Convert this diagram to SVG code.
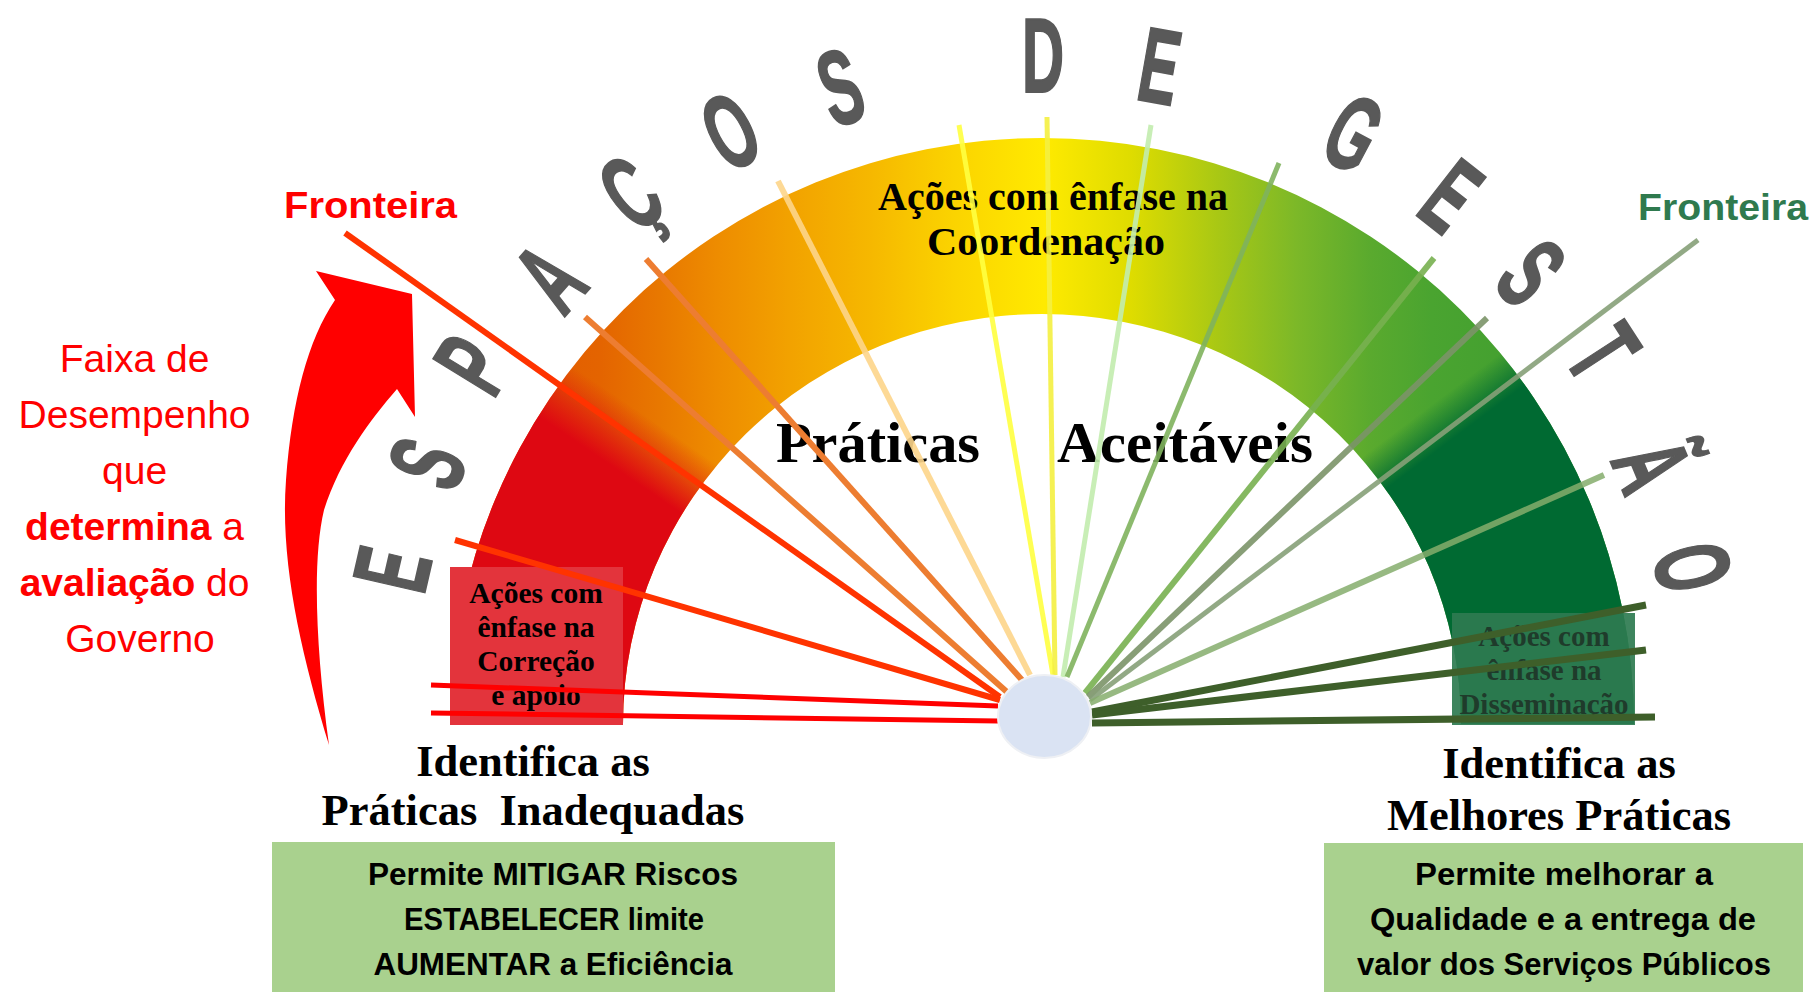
<svg xmlns="http://www.w3.org/2000/svg" width="1816" height="992" viewBox="0 0 1816 992">
<defs>
<style>
.serif{font-family:"Liberation Serif","Times New Roman",serif;font-weight:700;fill:#000}
.sans{font-family:"Liberation Sans",Arial,sans-serif}
.arc{font-family:"Liberation Sans",Arial,sans-serif;font-weight:700;font-size:106px;fill:#595959;stroke:#595959;stroke-width:2;text-anchor:middle}
.mid{text-anchor:middle}
.boxtxt{font-family:"Liberation Sans",Arial,sans-serif;font-weight:700;font-size:31.5px;fill:#000;text-anchor:middle}
.red{fill:#ff0000}
</style>
<linearGradient id="bandGrad" gradientUnits="userSpaceOnUse" x1="450" y1="0" x2="1634" y2="0">
<stop offset="0" stop-color="#e05000"/>
<stop offset="0.127" stop-color="#e46400"/>
<stop offset="0.177" stop-color="#e87800"/>
<stop offset="0.226" stop-color="#ee8c00"/>
<stop offset="0.287" stop-color="#f2a200"/>
<stop offset="0.356" stop-color="#f6b800"/>
<stop offset="0.427" stop-color="#fbd400"/>
<stop offset="0.502" stop-color="#ffea00"/>
<stop offset="0.576" stop-color="#dedc00"/>
<stop offset="0.648" stop-color="#a9c814"/>
<stop offset="0.715" stop-color="#7cb828"/>
<stop offset="0.777" stop-color="#5aaa2e"/>
<stop offset="0.829" stop-color="#4aa430"/>
<stop offset="1" stop-color="#3a9a30"/>
</linearGradient>
<linearGradient id="redFade" gradientUnits="userSpaceOnUse" x1="1025" y1="747" x2="1059" y2="697">
<stop offset="0" stop-color="#de0812"/>
<stop offset="1" stop-color="#de0812" stop-opacity="0"/>
</linearGradient>
<linearGradient id="greenFade" gradientUnits="userSpaceOnUse" x1="1030" y1="706" x2="1054" y2="738">
<stop offset="0" stop-color="#006a32" stop-opacity="0"/>
<stop offset="1" stop-color="#006a32"/>
</linearGradient>
<path id="bandShape" d="M450,724 A592,586 0 0 1 1634,724 L1461,724 A419,410 0 0 0 623,724 Z"/>
</defs>
<rect width="1816" height="992" fill="#ffffff"/>

<g id="gauge">
<use href="#bandShape" fill="url(#bandGrad)"/>
<use href="#bandShape" fill="url(#redFade)"/>
<use href="#bandShape" fill="url(#greenFade)"/>
</g>

<g id="box-correcao">
<rect x="450" y="567" width="173" height="158" fill="#e3343c"/>
<text class="serif mid" font-size="29.5"><tspan x="536" y="603">Ações com</tspan><tspan x="536" y="637">ênfase na</tspan><tspan x="536" y="671">Correção</tspan><tspan x="536" y="705">e apoio</tspan></text>
</g>

<g id="box-disseminacao">
<rect x="1452" y="613" width="183" height="112" fill="#2e7b50" opacity="0.92"/>
<text class="serif mid" font-size="29" style="fill:#1f3b2b"><tspan x="1544" y="646">Ações com</tspan><tspan x="1544" y="680">ênfase na</tspan><tspan x="1544" y="714">Disseminação</tspan></text>
</g>

<g id="title-arc">
<text class="arc" transform="translate(391,569) rotate(-77) scale(0.55,1)" y="38">E</text>
<text class="arc" transform="translate(426,463) rotate(-68) scale(0.55,1)" y="38">S</text>
<text class="arc" transform="translate(471,364) rotate(-58.5) scale(0.55,1)" y="38">P</text>
<text class="arc" transform="translate(549,277) rotate(-48.5) scale(0.55,1)" y="38">A</text>
<text class="arc" transform="translate(630,192) rotate(-38) scale(0.55,1)" y="38">Ç</text>
<text class="arc" transform="translate(730,130) rotate(-28) scale(0.55,1)" y="38">O</text>
<text class="arc" transform="translate(840,86) rotate(-18) scale(0.55,1)" y="38">S</text>
<text class="arc" transform="translate(1043,54) rotate(0) scale(0.55,1)" y="38">D</text>
<text class="arc" transform="translate(1160,65) rotate(10) scale(0.55,1)" y="38">E</text>
<text class="arc" transform="translate(1354,132) rotate(28) scale(0.55,1)" y="38">G</text>
<text class="arc" transform="translate(1452,195) rotate(38) scale(0.55,1)" y="38">E</text>
<text class="arc" transform="translate(1532,272) rotate(47.5) scale(0.55,1)" y="38">S</text>
<text class="arc" transform="translate(1604,352) rotate(57) scale(0.55,1)" y="38">T</text>
<text class="arc" transform="translate(1653,465) rotate(67.5) scale(0.55,1)" y="38">Ã</text>
<text class="arc" transform="translate(1694,567) rotate(77) scale(0.55,1)" y="38">O</text>
</g>

<g id="coordenacao">
<text class="serif mid" font-size="40"><tspan x="1053" y="210" textLength="350" lengthAdjust="spacingAndGlyphs">Ações com ênfase na</tspan><tspan x="1046" y="255" textLength="238" lengthAdjust="spacingAndGlyphs">Coordenação</tspan></text>
</g>

<g id="praticas-aceitaveis">
<text class="serif" font-size="57" x="776" y="462" textLength="204" lengthAdjust="spacingAndGlyphs">Práticas</text>
<text class="serif" font-size="57" x="1057" y="462" textLength="256" lengthAdjust="spacingAndGlyphs">Aceitáveis</text>
</g>

<g id="fronteira-left">
<text class="sans" font-weight="700" font-size="37" x="284" y="218" textLength="173" lengthAdjust="spacingAndGlyphs" fill="#ff0000">Fronteira</text>
</g>
<g id="fronteira-right">
<text class="sans" font-weight="700" font-size="37" x="1638" y="220" textLength="170" lengthAdjust="spacingAndGlyphs" fill="#2f7a4e">Fronteira</text>
</g>

<g id="faixa-desempenho">
<text class="sans red mid" font-size="39">
<tspan x="140" y="372">Faixa de</tspan>
<tspan x="140" y="428">Desempenho</tspan>
<tspan x="140" y="484">que</tspan>
<tspan x="140" y="540"><tspan font-weight="700">determina</tspan> a</tspan>
<tspan x="140" y="596"><tspan font-weight="700">avaliação</tspan> do</tspan>
<tspan x="140" y="652">Governo</tspan>
</text>
</g>

<g id="red-arrow">
<path d="M329,745 C300,650 280,560 286,480 C292,400 308,340 335,300 L316,271 L412,294 L415,417 L397,389 C370,420 340,460 324,510 C312,560 316,650 329,745 Z" fill="#ff0000"/>
</g>

<g id="connectors" fill="none" stroke-linecap="butt">
<line x1="345" y1="233" x2="1000" y2="697" stroke="#ff3300" stroke-width="6"/>
<line x1="455" y1="540" x2="1000" y2="700" stroke="#ff3300" stroke-width="6"/>
<line x1="431" y1="685" x2="998" y2="706" stroke="#ff0000" stroke-width="5"/>
<line x1="431" y1="713" x2="998" y2="721" stroke="#ff0000" stroke-width="5"/>
<line x1="585" y1="317" x2="1007" y2="692" stroke="#ed7d31" stroke-width="6"/>
<line x1="646" y1="259" x2="1022" y2="680" stroke="#ed7d31" stroke-width="6"/>
<line x1="778" y1="181" x2="1030" y2="675" stroke="#fdd58a" stroke-width="6" opacity="0.9"/>
<line x1="959" y1="125" x2="1053" y2="675" stroke="#ffff40" stroke-width="5" opacity="0.9"/>
<line x1="1047" y1="117" x2="1055" y2="675" stroke="#f4f040" stroke-width="5" opacity="0.9"/>
<line x1="1151" y1="125" x2="1063" y2="677" stroke="#c2ecae" stroke-width="5" opacity="0.9"/>
<line x1="1279" y1="163" x2="1067" y2="677" stroke="#80b35d" stroke-width="5" opacity="0.9"/>
<line x1="1434" y1="258" x2="1085" y2="693" stroke="#78b050" stroke-width="6" opacity="0.9"/>
<line x1="1487" y1="318" x2="1088" y2="697" stroke="#7b9468" stroke-width="6" opacity="0.9"/>
<line x1="1698" y1="240" x2="1090" y2="700" stroke="#86a078" stroke-width="5" opacity="0.9"/>
<line x1="1604" y1="475" x2="1090" y2="703" stroke="#85ad6c" stroke-width="6" opacity="0.85"/>
<line x1="1646" y1="605" x2="1092" y2="712" stroke="#3e5f2a" stroke-width="7"/>
<line x1="1646" y1="650" x2="1092" y2="715" stroke="#3e5f2a" stroke-width="7"/>
<line x1="1655" y1="717" x2="1092" y2="723" stroke="#3e5f2a" stroke-width="7"/>
</g>

<g id="hub">
<ellipse cx="1044.5" cy="716.5" rx="46.5" ry="41.5" fill="#dae3f3" stroke="#eef0f4" stroke-width="2"/>
</g>

<g id="left-bottom">
<text class="serif mid" font-size="44.5" xml:space="preserve"><tspan x="533" y="776">Identifica as</tspan><tspan x="533" y="825">Práticas  Inadequadas</tspan></text>
<rect x="272" y="842" width="563" height="150" fill="#a9d18e"/>
<text class="boxtxt"><tspan x="553" y="885" textLength="370" lengthAdjust="spacingAndGlyphs">Permite MITIGAR Riscos</tspan><tspan x="554" y="930" textLength="300" lengthAdjust="spacingAndGlyphs">ESTABELECER limite</tspan><tspan x="553" y="975" textLength="359" lengthAdjust="spacingAndGlyphs">AUMENTAR a Eficiência</tspan></text>
</g>

<g id="right-bottom">
<text class="serif mid" font-size="44.5"><tspan x="1559" y="778">Identifica as</tspan><tspan x="1559" y="830">Melhores Práticas</tspan></text>
<rect x="1324" y="843" width="479" height="149" fill="#a9d18e"/>
<text class="boxtxt"><tspan x="1564" y="885" textLength="298" lengthAdjust="spacingAndGlyphs">Permite melhorar a</tspan><tspan x="1563" y="930" textLength="386" lengthAdjust="spacingAndGlyphs">Qualidade e a entrega de</tspan><tspan x="1564" y="975" textLength="414" lengthAdjust="spacingAndGlyphs">valor dos Serviços Públicos</tspan></text>
</g>
</svg>
